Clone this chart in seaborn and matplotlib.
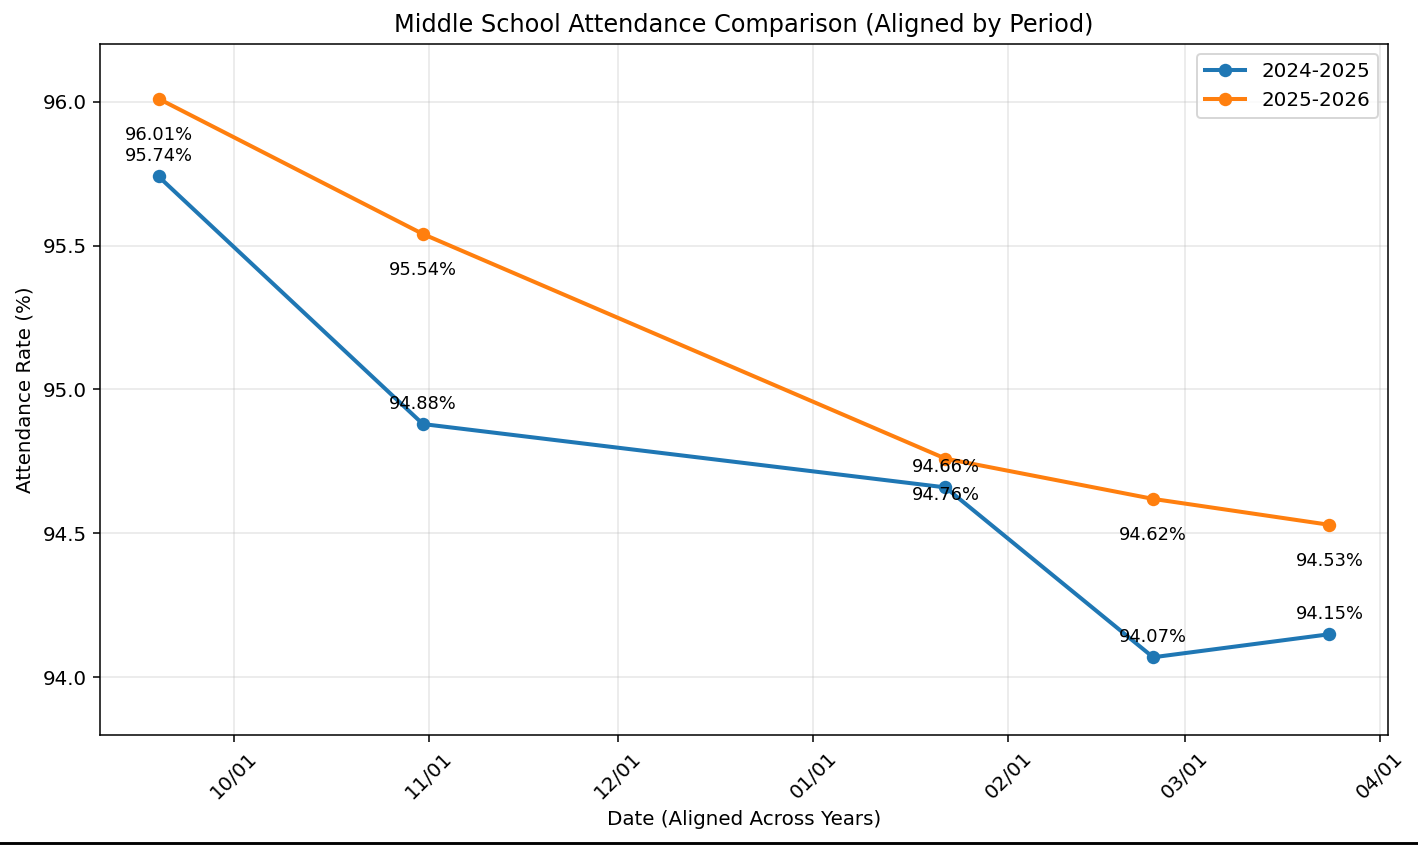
import numpy as np
import pandas as pd
import matplotlib
matplotlib.use('Agg')
import matplotlib.pyplot as plt
import matplotlib.dates as mdates
from matplotlib.lines import Line2D
import seaborn as sns

# Aligned period dates (shared by both school years)
period_dates = pd.to_datetime(['2024-09-19', '2024-10-31', '2025-01-22', '2025-02-24', '2025-03-24'])
rate_2024_2025 = [95.74, 94.88, 94.66, 94.07, 94.15]
rate_2025_2026 = [96.01, 95.54, 94.76, 94.62, 94.53]
season_labels = ['2024-2025', '2025-2026']
y_ticks = [94.0, 94.5, 95.0, 95.5, 96.0]

plt.rcParams['font.size'] = 10.4

dpi = 138
fig, ax = plt.subplots(figsize=(1418 / dpi, 846 / dpi), dpi=dpi)
fig.subplots_adjust(left=0.0705, right=0.9788, top=0.948, bottom=0.1312)

sns.lineplot(x=period_dates, y=rate_2024_2025, ax=ax, label=season_labels[0], color='#1f77b4',
             marker='o', markersize=7, markeredgewidth=0, linewidth=2.1)
sns.lineplot(x=period_dates, y=rate_2025_2026, ax=ax, label=season_labels[1], color='#ff7f0e',
             marker='o', markersize=7, markeredgewidth=0, linewidth=2.1)

# value labels: blue above, orange below
for d, v in zip(period_dates, rate_2024_2025):
    ax.annotate(f'{v:.2f}%', (d, v), textcoords='offset points', xytext=(0, 10.5),
                ha='center', va='center', fontsize=9.3)
for d, v in zip(period_dates, rate_2025_2026):
    ax.annotate(f'{v:.2f}%', (d, v), textcoords='offset points', xytext=(0, -19),
                ha='center', va='center', fontsize=9.3)

ax.set_ylim(93.8, 96.2)
ax.set_yticks(y_ticks)
ax.xaxis.set_major_locator(mdates.MonthLocator())
ax.xaxis.set_major_formatter(mdates.DateFormatter('%m/%d'))
plt.setp(ax.get_xticklabels(), rotation=45)

ax.set_title('Middle School Attendance Comparison (Aligned by Period)', fontsize=12.5)
ax.set_xlabel('Date (Aligned Across Years)')
ax.set_ylabel('Attendance Rate (%)')
ax.grid(True, alpha=0.3)
ax.legend(loc='upper right')

# thin dark border line at the very bottom of the screenshot
fig.add_artist(Line2D([0, 1], [0.003, 0.003], transform=fig.transFigure, color='black', linewidth=1.5))

fig.savefig('out.png', dpi=dpi)
